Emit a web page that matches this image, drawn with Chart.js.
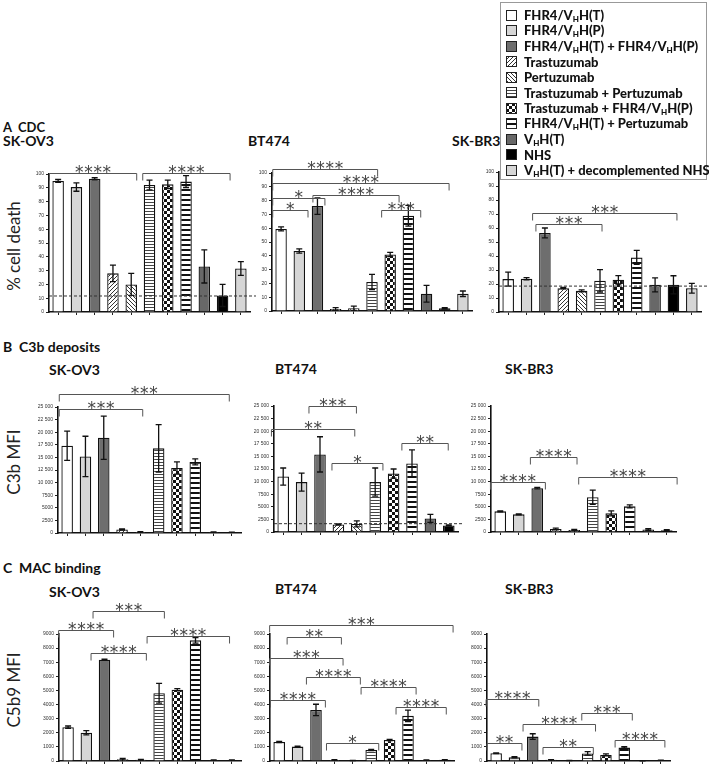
<!DOCTYPE html>
<html>
<head>
<meta charset="utf-8">
<script src="https://cdn.jsdelivr.net/npm/chart.js@4.4.1/dist/chart.umd.min.js"></script>
<style>
body { margin: 0; background: #fff; width: 709px; height: 773px; position: relative; overflow: hidden; font-family: Lato, "Open Sans", sans-serif; }
canvas.c { position: absolute; }
.t { position: absolute; font-weight: bold; font-size: 14px; line-height: 14px; color: #111; white-space: nowrap; }
.yl { position: absolute; font-size: 17px; line-height: 17px; color: #222; white-space: nowrap; transform: translate(-50%, -50%) rotate(-90deg); }
#legend { position: absolute; left: 500px; top: 2px; width: 205px; height: 176px; border: 1.5px solid #999; background: #fff; z-index: 5; }
#legend .row { position: absolute; left: 5px; height: 15px; display: flex; align-items: center; font-weight: 900; font-size: 13px; color: #111; white-space: nowrap; }
#legend canvas { margin-right: 7px; }
#legend sub { font-size: 8px; vertical-align: -2px; }
</style>
</head>
<body>
<div class="t" style="left:3px;top:120px;font-size:13px">A&nbsp;&nbsp;CDC</div>
<div class="t" style="left:3px;top:340px;font-size:14px">B&nbsp;&nbsp;C3b deposits</div>
<div class="t" style="left:3px;top:561px;font-size:14px">C&nbsp;&nbsp;MAC binding</div>

<div class="t" style="left:3px;top:134px">SK-OV3</div>
<div class="t" style="left:248px;top:134px">BT474</div>
<div class="t" style="left:452px;top:134px">SK-BR3</div>
<div class="t" style="left:49px;top:363px">SK-OV3</div>
<div class="t" style="left:275px;top:362px">BT474</div>
<div class="t" style="left:505px;top:362px">SK-BR3</div>
<div class="t" style="left:49px;top:585px">SK-OV3</div>
<div class="t" style="left:275px;top:582px">BT474</div>
<div class="t" style="left:505px;top:582px">SK-BR3</div>

<div class="yl" style="left:13px;top:246px">% cell death</div>
<div class="yl" style="left:13px;top:462px">C3b MFI</div>
<div class="yl" style="left:13px;top:690px">C5b9 MFI</div>

<div id="legend"></div>

<script>
// treatment groups (legend order = bar order)
const categories = ['FHR4/V_HH(T)', 'FHR4/V_HH(P)', 'FHR4/V_HH(T) + FHR4/V_HH(P)', 'Trastuzumab', 'Pertuzumab',
  'Trastuzumab + Pertuzumab', 'Trastuzumab + FHR4/V_HH(P)', 'FHR4/V_HH(T) + Pertuzumab', 'V_HH(T)', 'NHS',
  'V_HH(T) + decomplemented NHS'];

// tick labels
const cdcTicks = ['0', '10', '20', '30', '40', '50', '60', '70', '80', '90', '100'];
const c3bTicks = ['0', '2500', '5000', '7500', '10 000', '12 500', '15 000', '17 500', '20 000', '22 500', '25 000'];
const c5b9Ticks = ['0', '1000', '2000', '3000', '4000', '5000', '6000', '7000', '8000', '9000'];

// A - CDC (% cell death)
const cdcSKOV3 = [95, 90.5, 96.5, 28, 20, 92, 92.5, 94.5, 33, 12, 31.5];
const cdcSKOV3Err = [1, 3, 0.8, 6, 8, 3.5, 3, 4.3, 12, 8, 5];
const cdcSKOV3Ref = 11.6;
const cdcBT474 = [59.5, 43.5, 76, 1.5, 2, 21, 41, 69, 12.5, 2, 12.5];
const cdcBT474Err = [1.5, 1.5, 6, 1, 1.5, 5.5, 1.5, 7.5, 6, 0.5, 2];
const cdcSKBR3 = [23.5, 23.7, 56.5, 17, 15.1, 22.3, 23, 39, 19.4, 19.4, 17];
const cdcSKBR3Err = [5, 0.8, 3.5, 0.5, 0.7, 8, 3, 5, 5, 6.5, 3.5];
const cdcSKBR3Ref = 18.5;

// B - C3b deposits (MFI)
const c3bSKOV3 = [17300, 15200, 18900, 700, 200, 16800, 12900, 14100, 200, 150];
const c3bSKOV3Err = [2900, 4000, 4300, 100, 50, 4700, 1200, 600, 30, 30];
const c3bBT474 = [11000, 9900, 15400, 1500, 1600, 9900, 11600, 13600, 2700, 1300];
const c3bBT474Err = [1700, 1800, 3500, 100, 600, 2800, 900, 2700, 800, 100];
const c3bBT474Ref = 1650;
const c3bSKBR3 = [4100, 3500, 8700, 600, 400, 6900, 3700, 5100, 500, 350];
const c3bSKBR3Err = [100, 100, 150, 150, 100, 1400, 500, 300, 150, 100];

// C - MAC binding (C5b9 MFI)
const c5b9SKOV3 = [2400, 2000, 7180, 130, 80, 4800, 5050, 8550, 60, 60];
const c5b9SKOV3Err = [80, 150, 30, 50, 30, 700, 80, 200, 20, 20];
const c5b9BT474 = [1350, 1020, 3620, 70, 40, 780, 1490, 3200, 60, 80];
const c5b9BT474Err = [40, 40, 400, 20, 10, 50, 40, 400, 20, 20];
const c5b9SKBR3 = [550, 260, 1730, 80, 40, 540, 430, 950, 20, 50];
const c5b9SKBR3Err = [30, 40, 200, 20, 10, 130, 70, 60, 10, 10];

// significance brackets: [from bar, to bar, height, stars]
const cdcSKOV3Sig = [[-0.48, 4.3, 101, '****'], [4.63, 9.41, 101, '****']];
const cdcBT474Sig = [[-0.46, 5.31, 102.6, '****'], [-0.46, 9.24, 92.7, '****'], [-0.46, 2.41, 81.9, '*'],
  [1.75, 6.49, 83.8, '****'], [-0.46, 1.48, 73, '*'], [5.53, 7.68, 73, '***']];
const cdcSKBR3Sig = [[1.33, 9.19, 71, '***'], [1.51, 5.11, 62.6, '***']];
const c3bSKOV3Sig = [[-0.43, 8.86, 27660, '***'], [-0.43, 4.13, 24680, '***']];
const c3bBT474Sig = [[1.4, 3.98, 25000, '***'], [-0.64, 3.89, 20380, '**'], [2.65, 5.42, 13630, '*'], [6.45, 8.97, 17600, '**']];
const c3bSKBR3Sig = [[-0.53, 2.44, 10000, '****'], [1.63, 4.15, 14880, '****'], [4.24, 9.56, 10910, '****']];
const c5b9SKOV3Sig = [[-0.52, 2.5, 9310, '****'], [1.37, 5.29, 10610, '***'], [1.26, 4.3, 7650, '****'], [4.34, 8.87, 8880, '****']];
const c5b9BT474Sig = [[-0.52, 9.45, 9670, '***'], [0.43, 3.38, 8760, '**'], [-0.52, 3.47, 7300, '***'], [1.48, 4.41, 5950, '****'],
  [4.45, 7.44, 5240, '****'], [-0.48, 2.51, 4290, '****'], [6.35, 9.08, 3860, '****'], [2.57, 5.41, 1260, '*']];
const c5b9SKBR3Sig = [[-0.55, 2.33, 4410, '****'], [1.47, 5.43, 2630, '****'], [4.68, 7.44, 3390, '***'], [-0.5, 1.41, 1260, '**'],
  [2.56, 5.31, 1020, '**'], [6.5, 9.22, 1490, '****']];

// fill patterns
function tile(w, h, draw) {
  const c = document.createElement('canvas')
  c.width = w; c.height = h
  const g = c.getContext('2d')
  g.fillStyle = '#fff'
  g.fillRect(0, 0, w, h)
  draw(g)
  return c
}
const tiles = {
  fwd: tile(4, 4, g => { g.fillStyle = '#333'; for (let i = 0; i < 4; i++) g.fillRect(i, 3 - i, 1, 1) }),
  back: tile(4, 4, g => { g.fillStyle = '#333'; for (let i = 0; i < 4; i++) g.fillRect(i, i, 1, 1) }),
  hthin: tile(4, 3, g => { g.fillStyle = '#444'; g.fillRect(0, 0, 4, 1) }),
  check: tile(6, 6, g => { g.fillStyle = '#111'; g.fillRect(0, 0, 3, 3); g.fillRect(3, 3, 3, 3) }),
  hthick: tile(5, 5, g => { g.fillStyle = '#111'; g.fillRect(0, 0, 5, 2) })
}
const fillKinds = ['#ffffff', '#d6d6d6', '#6e6e6e', 'fwd', 'back', 'hthin', 'check', 'hthick', '#686868', '#000000', '#d6d6d6'];
function fillFor(ctx, i) {
  const k = fillKinds[i]
  return tiles[k] ? ctx.createPattern(tiles[k], 'repeat') : k
}

// legend
const legend = document.getElementById('legend')
categories.forEach((name, i) => {
  const row = document.createElement('div')
  row.className = 'row'
  row.style.top = (5 + i * 15.45) + 'px'
  const sw = document.createElement('canvas')
  sw.width = 11; sw.height = 11
  const g = sw.getContext('2d')
  g.fillStyle = fillFor(g, i)
  g.fillRect(0, 0, 11, 11)
  g.strokeStyle = '#222'
  g.lineWidth = 1
  g.strokeRect(0.5, 0.5, 10, 10)
  row.appendChild(sw)
  const span = document.createElement('span')
  span.innerHTML = name.replace(/_H/g, '<sub>H</sub>')
  row.appendChild(span)
  legend.appendChild(row)
})

// error bars, reference lines and brackets
const extras = {
  id: 'extras',
  afterDatasetsDraw(chart) {
    const s = chart.$spec
    const ctx = chart.ctx
    const xs = chart.scales.x, ys = chart.scales.y
    const vals = chart.data.datasets[0].data
    ctx.save()
    ctx.strokeStyle = '#111'
    ctx.lineWidth = 1.3
    vals.forEach((v, i) => {
      const e = s.err[i]
      const px = xs.getPixelForValue(i)
      const top = ys.getPixelForValue(v + e), bot = ys.getPixelForValue(Math.max(v - e, 0))
      ctx.beginPath()
      ctx.moveTo(px, bot); ctx.lineTo(px, top)
      ctx.moveTo(px - 3, top); ctx.lineTo(px + 3, top)
      ctx.moveTo(px - 3, bot); ctx.lineTo(px + 3, bot)
      ctx.stroke()
    })
    if (s.ref != null) {
      const py = ys.getPixelForValue(s.ref)
      ctx.setLineDash([3, 2])
      ctx.strokeStyle = '#333'
      ctx.lineWidth = 1
      ctx.beginPath()
      ctx.moveTo(chart.chartArea.left, py); ctx.lineTo(chart.chartArea.right + 6, py)
      ctx.stroke()
      ctx.setLineDash([])
    }
    ctx.strokeStyle = '#555'
    ctx.lineWidth = 1
    ctx.fillStyle = '#444'
    ctx.font = '17px "DejaVu Sans"'
    ctx.textAlign = 'center'
    ctx.textBaseline = 'alphabetic'
    s.sig.forEach(([a, b, lvl, stars]) => {
      const xa = xs.getPixelForValue(a), xb = xs.getPixelForValue(b), py = Math.round(ys.getPixelForValue(lvl)) + 0.5
      ctx.beginPath()
      ctx.moveTo(xa, py + 7); ctx.lineTo(xa, py); ctx.lineTo(xb, py); ctx.lineTo(xb, py + 7)
      ctx.stroke()
      const cx = (xa + xb) / 2
      for (let k = 0; k < stars.length; k++) {
        ctx.fillText('*', cx + (k - (stars.length - 1) / 2) * 9.2, py + 4)
      }
    })
    ctx.restore()
  }
}

const specs = [
  { box: [49, 250, 173.5, 311.7], vals: cdcSKOV3, err: cdcSKOV3Err, sig: cdcSKOV3Sig, ref: cdcSKOV3Ref, ticks: cdcTicks, max: 100 },
  { box: [272, 472, 172.7, 311], vals: cdcBT474, err: cdcBT474Err, sig: cdcBT474Sig, ticks: cdcTicks, max: 100 },
  { box: [499, 701, 171.6, 311.3], vals: cdcSKBR3, err: cdcSKBR3Err, sig: cdcSKBR3Sig, ref: cdcSKBR3Ref, ticks: cdcTicks, max: 100 },
  { box: [58, 241, 406.7, 532.7], vals: c3bSKOV3, err: c3bSKOV3Err, sig: c3bSKOV3Sig, ticks: c3bTicks, max: 25000 },
  { box: [274, 458, 406.3, 532.7], vals: c3bBT474, err: c3bBT474Err, sig: c3bBT474Sig, ref: c3bBT474Ref, ticks: c3bTicks, max: 25000 },
  { box: [491, 676, 406.3, 532.7], vals: c3bSKBR3, err: c3bSKBR3Err, sig: c3bSKBR3Sig, ticks: c3bTicks, max: 25000 },
  { box: [59, 241, 634.3, 761], vals: c5b9SKOV3, err: c5b9SKOV3Err, sig: c5b9SKOV3Sig, ticks: c5b9Ticks, max: 9000 },
  { box: [270, 454, 634.3, 761], vals: c5b9BT474, err: c5b9BT474Err, sig: c5b9BT474Sig, ticks: c5b9Ticks, max: 9000 },
  { box: [487, 670, 634.3, 761], vals: c5b9SKBR3, err: c5b9SKBR3Err, sig: c5b9SKBR3Sig, ticks: c5b9Ticks, max: 9000 }
]

const WY = 32, PT = 50, HX = 6, PR = 10
specs.forEach(s => {
  const [ax, ae, yt, y0] = s.box
  const top = Math.round(yt) - PT
  const cv = document.createElement('canvas')
  cv.className = 'c'
  cv.width = Math.round(ae - ax) + WY + PR
  cv.height = PT + Math.round(y0 - yt) + HX
  cv.style.left = (Math.round(ax) - WY) + 'px'
  cv.style.top = top + 'px'
  document.body.appendChild(cv)
  const ctx = cv.getContext('2d')
  const n = s.vals.length
  const fills = s.vals.map((v, i) => fillFor(ctx, i))
  new Chart(cv, {
    type: 'bar',
    data: {
      labels: categories.slice(0, n),
      datasets: [{
        data: s.vals,
        backgroundColor: fills,
        borderColor: '#111',
        borderWidth: 1.3,
        barPercentage: 0.63,
        categoryPercentage: 1
      }]
    },
    options: {
      responsive: false,
      animation: false,
      layout: { padding: { top: PT, right: PR, left: 0, bottom: 0 } },
      plugins: { legend: { display: false }, tooltip: { enabled: false } },
      scales: {
        x: {
          grid: { display: true, offset: false, drawOnChartArea: false, drawTicks: true, tickLength: 3, color: '#222' },
          border: { display: true, color: '#111', width: 1.6 },
          ticks: { display: false },
          afterFit: sc => { sc.height = HX }
        },
        y: {
          min: 0,
          max: s.max,
          ticks: {
            stepSize: s.max / (s.ticks.length - 1),
            font: { size: 5, family: 'Liberation Sans' },
            color: '#333',
            padding: 2,
            callback: (v, i) => s.ticks[i]
          },
          grid: { display: true, drawOnChartArea: false, drawTicks: true, tickLength: 3, color: '#222' },
          border: { display: true, color: '#111', width: 1.6 },
          afterFit: sc => { sc.width = WY }
        }
      }
    },
    plugins: [{ id: 'spec', beforeInit(c) { c.$spec = s } }, extras]
  })
})
</script>
</body>
</html>
